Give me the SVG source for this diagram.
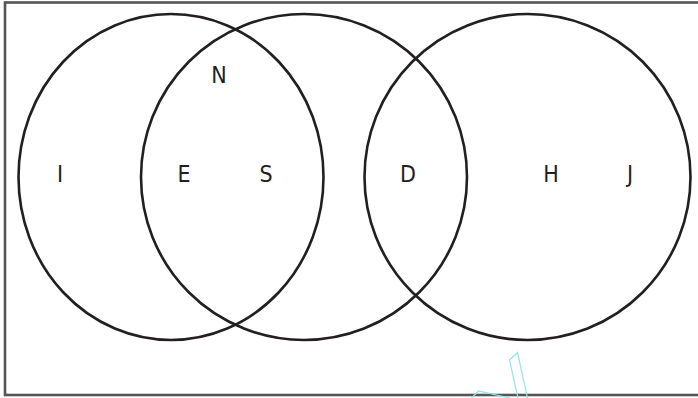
<svg xmlns="http://www.w3.org/2000/svg" width="698" height="398" viewBox="0 0 698 398">
  <style>
    .set { fill: none; stroke: #231f20; stroke-width: 2.6; }
    .lbl { font-family: "Liberation Sans Narrow", "DejaVu Sans Condensed", "Liberation Sans", sans-serif; font-stretch: condensed; font-size: 23px; fill: #231f20; text-anchor: middle; }
    .ghost { fill: none; stroke: #8fe6ee; stroke-width: 1.2; }
  </style>
  <rect x="0" y="0" width="698" height="398" fill="#ffffff"/>
  <rect id="frame" x="5" y="2.5" width="700" height="392.5" fill="none" stroke="#555555" stroke-width="2.6"/>
  <g id="set-left">
    <ellipse class="set" cx="171" cy="177" rx="152.5" ry="163"/>
  </g>
  <g id="set-middle">
    <circle class="set" cx="304" cy="177" r="163"/>
  </g>
  <g id="set-right">
    <circle class="set" cx="527.5" cy="177" r="163"/>
  </g>
  <g id="labels">
    <text class="lbl" x="60" y="182">I</text>
    <text class="lbl" x="219" y="83">N</text>
    <text class="lbl" x="184" y="182">E</text>
    <text class="lbl" x="266" y="182">S</text>
    <text class="lbl" x="408" y="182">D</text>
    <text class="lbl" x="551" y="182">H</text>
    <text class="lbl" x="630" y="182">J</text>
  </g>
  <g id="connectors"/>
  <g id="artifact">
    <polyline class="ghost" points="471.5,398 478.5,391 510,398"/>
    <polyline class="ghost" points="518,398 509.5,360 517.5,352.5 527.5,398"/>
  </g>
</svg>
